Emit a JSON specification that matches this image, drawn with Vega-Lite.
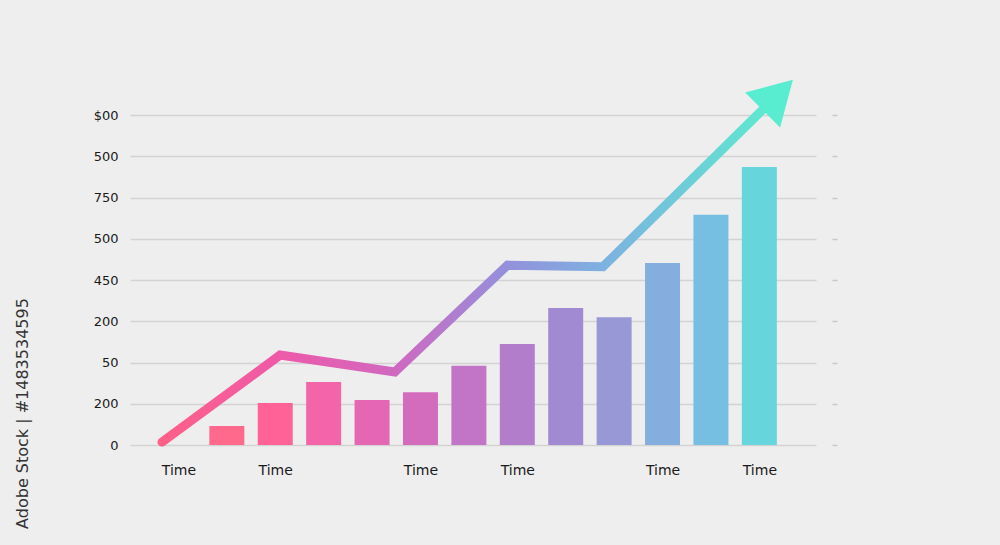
{
  "$schema": "https://vega.github.io/schema/vega-lite/v6.json",
  "width": 686,
  "height": 330,
  "autosize": "none",
  "padding": {"left": 130, "top": 115, "right": 184, "bottom": 100},
  "background": "#eeeeee",
  "config": {
    "view": {"stroke": null},
    "font": "DejaVu Sans",
    "axis": {"labelFont": "DejaVu Sans", "titleFont": "DejaVu Sans"}
  },
  "datasets": {
    "bars": [
      {"t": 1, "v": 0.46}, {"t": 2, "v": 1.02}, {"t": 3, "v": 1.53}, {"t": 4, "v": 1.09},
      {"t": 5, "v": 1.28}, {"t": 6, "v": 1.92}, {"t": 7, "v": 2.45}, {"t": 8, "v": 3.32},
      {"t": 9, "v": 3.10}, {"t": 10, "v": 4.41}, {"t": 11, "v": 5.58}, {"t": 12, "v": 6.74}
    ],
    "trend": [
      {"t": -0.34, "v": 0.07}, {"t": 2.10, "v": 2.18}, {"t": 4.47, "v": 1.77},
      {"t": 6.80, "v": 4.36}, {"t": 8.77, "v": 4.32}, {"t": 12.12, "v": 8.19}
    ],
    "head": [{"t": 12.38, "v": 8.49}]
  },
  "encoding": {
    "x": {
      "field": "t", "type": "quantitative",
      "scale": {"domain": [-1.0, 13.17], "nice": false, "zero": false, "padding": 0},
      "axis": {
        "values": [0, 2, 5, 7, 10, 12], "labelExpr": "'Time'", "title": null,
        "domain": false, "ticks": false, "grid": false, "labelOverlap": false,
        "labelPadding": 18, "labelFontSize": 14, "labelColor": "#1a1a1a", "labelDx": 2
      }
    }
  },
  "layer": [
    {
      "data": {"name": "bars"},
      "mark": {"type": "bar", "size": 35},
      "encoding": {
        "y": {
          "field": "v", "type": "quantitative",
          "scale": {"domain": [0, 8], "nice": false},
          "axis": {
            "orient": "left",
            "values": [0, 1, 2, 3, 4, 5, 6, 7, 8],
            "labelExpr": "['0','200','50','200','450','500','750','500','$00'][datum.value]",
            "domain": false, "ticks": false, "grid": true,
            "gridColor": "#d3d3d3", "gridWidth": 1.5,
            "labelPadding": 12, "labelFontSize": 13, "labelColor": "#1a1a1a",
            "title": "Adobe Stock | #1483534595",
            "titleX": -108, "titleY": 298, "titleAngle": -90,
            "titleAlign": "center", "titleBaseline": "middle",
            "titleFontSize": 16, "titleFontWeight": "normal", "titleColor": "#333333"
          }
        },
        "color": {
          "field": "t", "type": "ordinal", "legend": null,
          "scale": {"range": ["#ff6a8c", "#ff6296", "#f464a8", "#e566b2", "#d46cbe", "#c274c6", "#b27ecc", "#a28ad2", "#9898d6", "#84aede", "#76bee2", "#66d6dc"]}
        }
      }
    },
    {
      "data": {"name": "trend"},
      "mark": {
        "type": "line", "strokeWidth": 9, "strokeCap": "round", "strokeJoin": "miter",
        "stroke": {
          "gradient": "linear", "x1": 0, "y1": 0, "x2": 1, "y2": 0,
          "stops": [
            {"offset": 0, "color": "#ff6088"},
            {"offset": 0.19, "color": "#ee5aa8"},
            {"offset": 0.385, "color": "#d068c0"},
            {"offset": 0.57, "color": "#9490dc"},
            {"offset": 0.725, "color": "#7eb0e0"},
            {"offset": 1, "color": "#5ee8d0"}
          ]
        }
      },
      "encoding": {
        "y": {
          "field": "v", "type": "quantitative",
          "axis": {
            "orient": "right", "offset": 16, "values": [0, 1, 2, 3, 4, 5, 6, 7, 8],
            "labels": false, "domain": false, "grid": false,
            "ticks": true, "tickSize": 5, "tickColor": "#c8c8c8", "tickWidth": 1.5, "title": null
          }
        }
      }
    },
    {
      "data": {"name": "head"},
      "mark": {"type": "point", "shape": "triangle-up", "size": 2450, "angle": 45, "filled": true, "fill": "#58ecd0", "opacity": 1},
      "encoding": {
        "y": {"field": "v", "type": "quantitative", "axis": null}
      }
    }
  ],
  "resolve": {"axis": {"y": "independent"}}
}
